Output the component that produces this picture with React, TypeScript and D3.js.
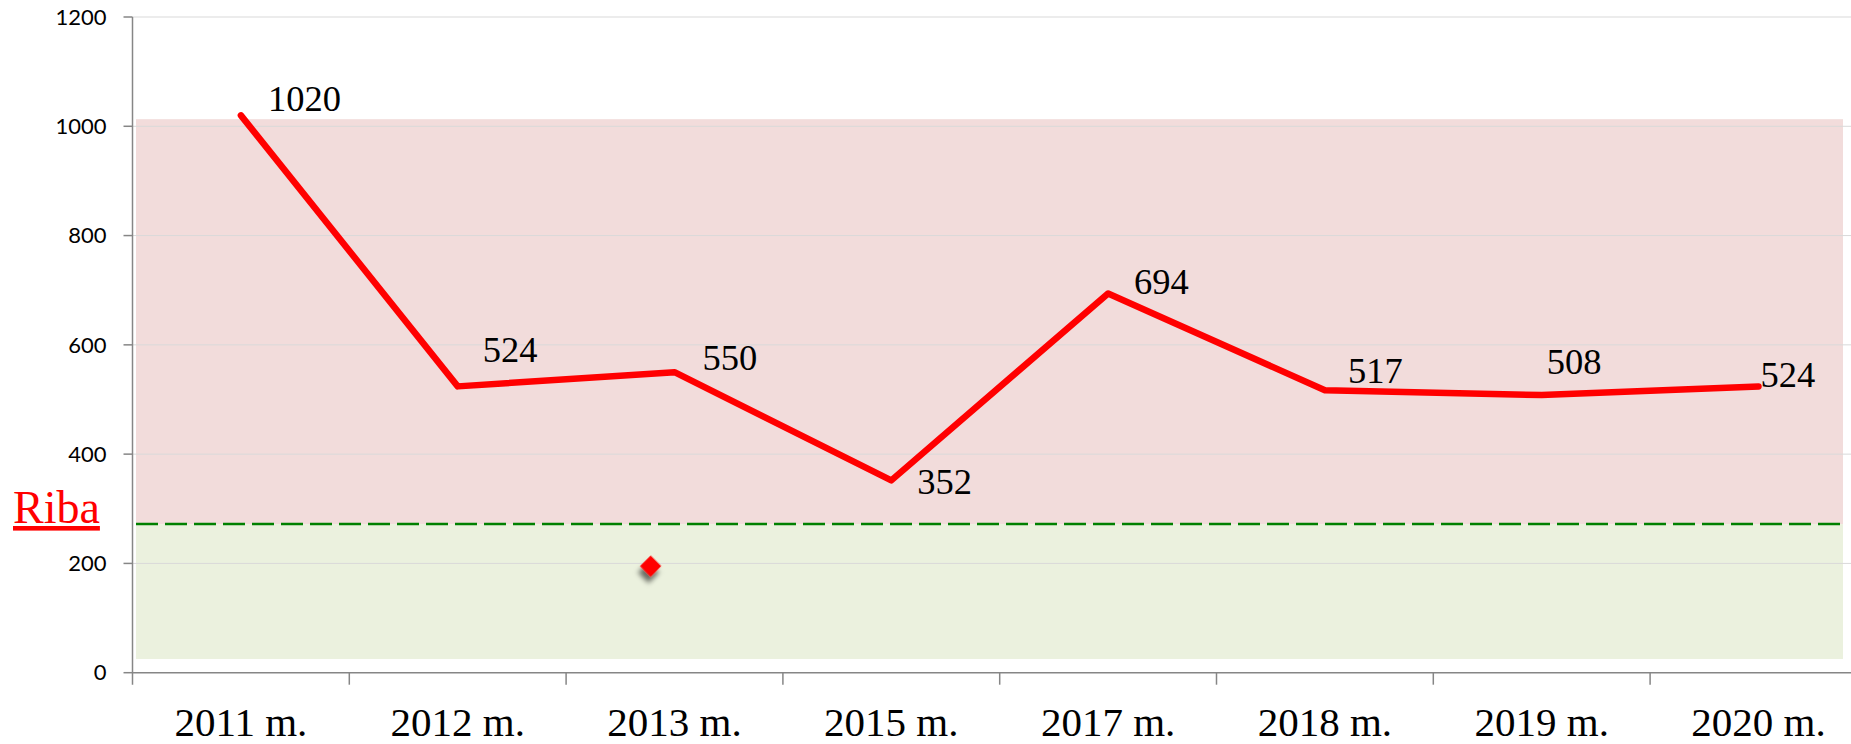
import * as d3 from 'd3'

const width = 1851,
      height = 744

const years = ['2011 m.', '2012 m.', '2013 m.', '2015 m.', '2017 m.', '2018 m.', '2019 m.', '2020 m.']
const values = [1020, 524, 550, 352, 694, 517, 508, 524]
const yTicks = [0, 200, 400, 600, 800, 1000, 1200]

// background zones: green from 25 to the limit, red from the limit up to 1013
const zoneBottom = 25,
      limit = 272,
      zoneTop = 1013

// lone marker placed a bit left of 2013 (position on category index)
const markerIndex = 1.89,
      markerValue = 195

// hand-placed label offsets (px) relative to each point, like in the original
const labelDx = [27, 25, 28, 26, 26, 23, 5, 2]
const labelDy = [-4, -24, -2, 14, 1, -7, -21, 1]

const x = d3.scaleBand()
  .domain(years)
  .range([132.5, 132.5 + 8 * 216.8])

const xi = d3.scaleLinear()
  .domain([0, 1])
  .range([x(years[0]) + x.bandwidth() / 2, x(years[1]) + x.bandwidth() / 2])

const y = d3.scaleLinear()
  .domain([0, 1200])
  .range([672.7, 17])

const cx = (d, i) => x(years[i]) + x.bandwidth() / 2

const line = d3.line()
  .x((d, i) => cx(d, i))
  .y(d => y(d))

export default function App() {
  const left = x.range()[0]
  const bandLeft = left + 3.5,
        bandRight = 1843

  return (
    <svg width={width} height={height} style={{ position: 'absolute', left: 0, top: 0, background: '#fff' }}>
      <defs>
        <filter id='shadow' x='-100%' y='-100%' width='300%' height='300%'>
          <feDropShadow dx='3' dy='6' stdDeviation='2.5' floodColor='#000' floodOpacity='0.55' />
        </filter>
      </defs>

      {/* zones */}
      <rect x={bandLeft} y={y(zoneTop)} width={bandRight - bandLeft} height={y(limit) - y(zoneTop)} fill='#f2dcdb' />
      <rect x={bandLeft} y={y(limit)} width={bandRight - bandLeft} height={y(zoneBottom) - y(limit)} fill='#ebf1de' />

      {/* gridlines */}
      <g className='grid'>
        {yTicks.filter(t => t > 0).map(t =>
          <line key={t} x1={left} x2={width} y1={y(t)} y2={y(t)} stroke='#d9d9d9' strokeWidth='1' />
        )}
      </g>

      <line x1={bandLeft} x2={bandRight} y1={y(limit)} y2={y(limit)}
        stroke='#008000' strokeWidth='2.5' strokeDasharray='22 7' />

      {/* y axis */}
      <g className='y-axis'>
        <line x1={left} x2={left} y1={y(1200)} y2={y(0) + 12} stroke='#868686' strokeWidth='1.5' />
        {yTicks.map(t =>
          <g key={t}>
            <line x1={left - 9} x2={left} y1={y(t)} y2={y(t)} stroke='#868686' strokeWidth='1.5' />
            <text x={left - 26} y={y(t)} dy='0.35em' textAnchor='end'
              fontFamily='Lato, sans-serif' fontSize='22' fill='#000'>{t}</text>
          </g>
        )}
      </g>

      {/* x axis */}
      <g className='x-axis'>
        <line x1={left} x2={width} y1={y(0)} y2={y(0)} stroke='#868686' strokeWidth='1.5' />
        {years.map(yr =>
          <line key={yr} x1={x(yr) + x.bandwidth()} x2={x(yr) + x.bandwidth()} y1={y(0)} y2={y(0) + 12}
            stroke='#868686' strokeWidth='1.5' />
        )}
        {years.map(yr =>
          <text key={yr} x={x(yr) + x.bandwidth() / 2} y={736} textAnchor='middle'
            fontFamily='"Liberation Serif", "Times New Roman", serif' fontSize='41' fill='#000'>{yr}</text>
        )}
      </g>

      <text x={13} y={523} fontFamily='"Liberation Serif", "Times New Roman", serif' fontSize='46'
        fill='#ff0000' textDecoration='underline'>Riba</text>

      {/* series */}
      <path d={line(values)} fill='none' stroke='#ff0000' strokeWidth='6.5' strokeLinejoin='round' strokeLinecap='round' />

      <g className='labels'>
        {values.map((v, i) =>
          <text key={i} x={cx(v, i) + labelDx[i]} y={y(v) + labelDy[i]}
            fontFamily='"Liberation Serif", "Times New Roman", serif' fontSize='36.5' fill='#000'>{v}</text>
        )}
      </g>

      <rect x={xi(markerIndex) - 7.5} y={y(markerValue) - 7.5} width='15' height='15' fill='#ff0000'
        filter='url(#shadow)'
        transform={`rotate(45 ${xi(markerIndex)} ${y(markerValue)})`} />
    </svg>
  )
}
